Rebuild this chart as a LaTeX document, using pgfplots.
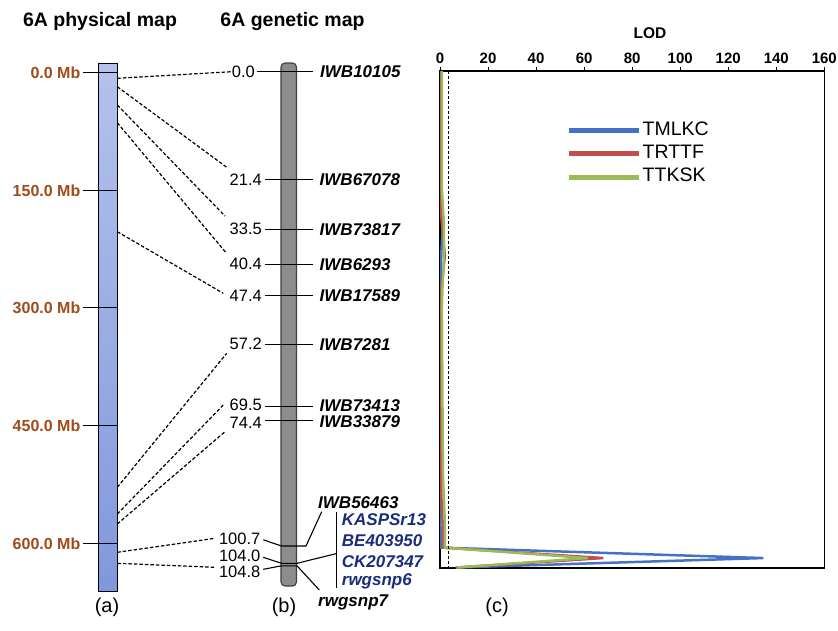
\documentclass[border=0pt]{standalone}
\usepackage{pgfplots}
\pgfplotsset{compat=1.18}
\usepackage{fontspec}
\setmainfont{Liberation Sans}
\definecolor{mbbrown}{RGB}{160,75,25}
\definecolor{navy}{RGB}{25,45,125}
\definecolor{barA}{RGB}{180,194,236}
\definecolor{barB}{RGB}{128,152,220}
\definecolor{chrgray}{RGB}{140,140,140}
\definecolor{cBlue}{RGB}{68,114,196}
\definecolor{cRed}{RGB}{192,80,77}
\definecolor{cGreen}{RGB}{155,187,89}
\newcommand\fs[1]{\fontsize{#1}{#1}\selectfont}
\tikzset{mblab/.style={anchor=east,font=\fs{16}\bfseries,text=mbbrown,inner sep=0},
  cmlab/.style={anchor=east,font=\fs{16.5},inner sep=0},
  mklab/.style={anchor=west,font=\fs{17}\bfseries\itshape,inner sep=0},
  tklin/.style={line width=1.1pt},
  dsh/.style={line width=1.2pt,dash pattern=on 3.5pt off 2pt}}
\begin{document}
\begin{tikzpicture}
\useasboundingbox (0,0) rectangle (838pt,630pt);
\begin{axis}[at={(0pt,0pt)},anchor=south west,scale only axis,width=838pt,height=630pt,
  xmin=0,xmax=838,ymin=0,ymax=630,y dir=reverse,hide axis,clip=false]
\addplot[draw=none] coordinates {(0,0)};
% titles
\node[anchor=base,font=\fs{19.5}\bfseries,inner sep=0] at (100,26.7) {6A physical map};
\node[anchor=base,font=\fs{19.5}\bfseries,inner sep=0] at (292.5,26.7) {6A genetic map};
% physical bar
\shade[top color=barA,bottom color=barB] (98.3,63.3) rectangle (117.3,591.7);
\draw[line width=1.2pt] (98.3,63.3) rectangle (117.3,591.7);
\draw[tklin] (82.7,72.3) -- (117.3,72.3);
\draw[tklin] (82.7,190.7) -- (117.3,190.7);
\draw[tklin] (82.7,307.3) -- (117.3,307.3);
\draw[tklin] (82.7,425.3) -- (117.3,425.3);
\draw[tklin] (82.7,543.3) -- (117.3,543.3);
\node[mblab] at (80.5,72.3) {0.0 Mb};
\node[mblab] at (80.5,190.7) {150.0 Mb};
\node[mblab] at (80.5,307.3) {300.0 Mb};
\node[mblab] at (80.5,425.3) {450.0 Mb};
\node[mblab] at (80.5,543.3) {600.0 Mb};
% dashed links
\draw[dsh] (117.3,78.3) -- (231.7,71.7);
\draw[dsh] (117.3,86.7) -- (226.7,167.3);
\draw[dsh] (117.3,105) -- (225,216);
\draw[dsh] (117.3,122.7) -- (226,252.7);
\draw[dsh] (117.3,231.7) -- (223.3,293.3);
\draw[dsh] (117.3,487.3) -- (226.7,353.3);
\draw[dsh] (117.3,514) -- (223.3,405);
\draw[dsh] (117.3,524) -- (225,431.7);
\draw[dsh] (117.3,552.3) -- (215,538.3);
\draw[dsh] (117.3,563.3) -- (215,567.3);
% genetic chromosome
\draw[fill=chrgray,draw=black!75,line width=1.1pt,rounded corners=4pt] (281,63) rectangle (296.5,586);
\draw[tklin] (257,71.5) -- (313,71.5);
\node[cmlab] at (255,71.5) {0.0};
\node[mklab] at (320,71.5) {IWB10105};
\draw[tklin] (265,179.3) -- (313,179.3);
\draw[tklin] (265,229.3) -- (313,229.3);
\draw[tklin] (265,264.3) -- (313,264.3);
\draw[tklin] (265,295.7) -- (313,295.7);
\draw[tklin] (265,344.3) -- (313,344.3);
\draw[tklin] (265,406.7) -- (313,406.7);
\draw[tklin] (265,420.7) -- (313,420.7);
\node[cmlab] at (262,179.3) {21.4};
\node[cmlab] at (262,229.3) {33.5};
\node[cmlab] at (262,264.3) {40.4};
\node[cmlab] at (262,295.7) {47.4};
\node[cmlab] at (262,344.3) {57.2};
\node[cmlab] at (262,405.2) {69.5};
\node[cmlab] at (262,422.5) {74.4};
\node[mklab] at (319.5,179.3) {IWB67078};
\node[mklab] at (319.5,229.3) {IWB73817};
\node[mklab] at (319.5,264.3) {IWB6293};
\node[mklab] at (319.5,295.7) {IWB17589};
\node[mklab] at (319.5,344.3) {IWB7281};
\node[mklab] at (319.5,405.5) {IWB73413};
\node[mklab] at (319.5,422) {IWB33879};
% bottom cluster
\node[cmlab] at (260.5,539) {100.7};
\node[cmlab] at (260.5,556) {104.0};
\node[cmlab] at (260.5,571.5) {104.8};
\draw[tklin] (263.3,539.8) -- (281.5,546) -- (306,546) -- (321.7,511.7);
\draw[tklin] (263.3,557.3) -- (281.5,563.3) -- (297,563.3) -- (336.7,553.5);
\draw[tklin] (263.3,569.3) -- (281.5,565.8) -- (297,565.8) -- (319.3,590);
\draw[line width=1.2pt] (336.7,512) -- (336.7,588);
\node[mklab] at (318,503) {IWB56463};
\node[mklab] at (318,602) {rwgsnp7};
\node[mklab,text=navy] at (341.7,520) {KASPSr13};
\node[mklab,text=navy] at (341.7,541) {BE403950};
\node[mklab,text=navy] at (341.7,562) {CK207347};
\node[mklab,text=navy] at (341.7,581) {rwgsnp6};
% panel labels
\node[font=\fs{20},inner sep=0] at (107,607) {(a)};
\node[font=\fs{20},inner sep=0] at (284,607) {(b)};
\node[font=\fs{20},inner sep=0] at (497,607) {(c)};
\node[font=\fs{15.5}\bfseries,inner sep=0] at (650,33) {LOD};
\end{axis}
\begin{axis}[at={(440pt,62pt)},anchor=south west,scale only axis,width=384.3pt,height=497pt,
  xmin=0,xmax=160,ymin=0,ymax=104.8,y dir=reverse,
  xtick={0,20,...,160},ytick=\empty,xtick pos=right,xticklabel pos=right,
  xtick align=outside,major tick length=4pt,
  tick style={black,line width=1pt},axis line style={line width=1.2pt},
  /pgf/number format/assume math mode=true,
  xticklabel style={font=\fs{15}\bfseries},
  legend style={draw=none,fill=none,at={(axis description cs:0.32,0.905)},anchor=north west,
    font=\fs{19.5},row sep=5pt,nodes={inner sep=1.5pt}},
  legend cell align=left,
  legend image code/.code={\draw[#1,line width=5pt] (0pt,-1.5pt) -- (70pt,-1.5pt);}]
\addplot[cBlue,line width=2.5pt] coordinates {(0.2,0) (0.2,26) (0.8,31) (1.0,34) (0.6,38) (0.2,44) (0.2,96) (0.5,100.5) (134.6,102.7) (6.5,104.7)};
\addlegendentry{TMLKC}
\addplot[cRed,line width=2.5pt] coordinates {(0.4,0) (0.4,30) (1.2,34) (2.0,39) (1.2,43) (0.4,47) (0.6,90) (1.2,96) (1.2,100.5) (68,102.7) (7,104.7)};
\addlegendentry{TRTTF}
\addplot[cGreen,line width=2.5pt] coordinates {(0.8,0) (0.8,25) (1.6,32) (1.6,40) (1.0,46) (0.8,50) (1.2,85) (2.0,95) (2.0,100.5) (61.5,102.7) (7,104.7)};
\addlegendentry{TTKSK}
\addplot[black,line width=1pt,dash pattern=on 3pt off 2pt,forget plot] coordinates {(3.7,0) (3.7,104.8)};
\end{axis}
\end{tikzpicture}
\end{document}
